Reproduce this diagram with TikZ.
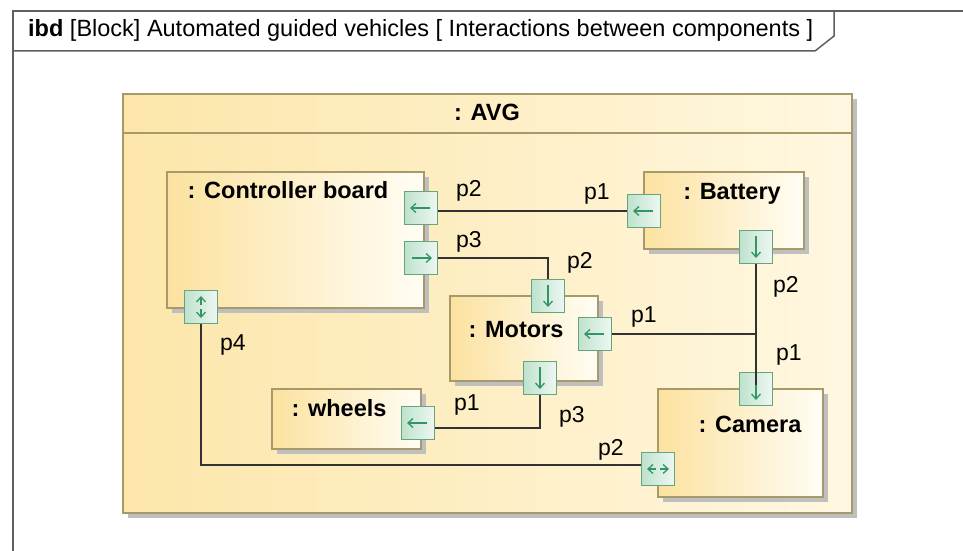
\documentclass[tikz,border=0pt]{standalone}
\usepackage{fontspec}
\setmainfont{Liberation Sans}
\usetikzlibrary{arrows.meta,shadows}
\definecolor{framec}{RGB}{95,95,95}
\definecolor{blockB}{RGB}{166,154,107}
\definecolor{blockL}{RGB}{252,226,160}
\definecolor{blockR}{RGB}{255,253,244}
\definecolor{avgL}{RGB}{252,230,170}
\definecolor{avgR}{RGB}{255,247,224}
\definecolor{portB}{RGB}{100,165,125}
\definecolor{portL}{RGB}{190,226,205}
\definecolor{portR}{RGB}{238,247,242}
\definecolor{arrowc}{RGB}{50,150,100}
\definecolor{connc}{RGB}{50,50,50}
\tikzset{
  frameline/.style={draw=framec, line width=1.5pt},
  blockbox/.style={draw=blockB, line width=1.5pt, left color=blockL, right color=blockR,
    anchor=north west, inner sep=0pt,
    general shadow={fill=black!25, shadow xshift=5pt, shadow yshift=-5pt}},
  avgbox/.style={blockbox, left color=avgL, right color=avgR},
  porttab/.style={rectangle, draw=portB, line width=1.3pt, left color=portL, right color=portR,
    minimum size=33pt, inner sep=0pt},
  parrow/.style={draw=arrowc, line width=1.3pt, -{Straight Barb[length=5pt,width=9pt]}},
  conn/.style={draw=connc, line width=1.4pt},
  titletext/.style={font=\fontsize{23.5}{27}\selectfont\bfseries, anchor=base, inner sep=0pt},
  plabel/.style={font=\fontsize{23}{27}\selectfont, anchor=base west, inner sep=0pt},
  headtext/.style={font=\fontsize{23.5}{27}\selectfont, anchor=base west, inner sep=0pt}
}
\begin{document}
\begin{tikzpicture}[x=1pt,y=-1pt]
\useasboundingbox (0,0) rectangle (963,551);
\fill[white] (0,0) rectangle (963,551);
% frame
\draw[frameline] (13,551) -- (13,11) -- (963,11);
\draw[frameline] (13,51) -- (815,51) -- (834,36) -- (834,11);
\node[headtext] (head) at (28,37) {\textbf{ibd} [Block] Automated guided vehicles [ Interactions between components ]};
% AVG block
\node[avgbox, minimum width=729pt, minimum height=419pt] (avg) at (122,93) {};
\draw[draw=blockB, line width=1.5pt] (avg.west |- 0,133) -- (avg.east |- 0,133);
\node[titletext] (avgt) at (487,120) {: AVG};
% parts
\node[blockbox, minimum width=257pt, minimum height=136pt] (cb) at (166,171) {};
\node[blockbox, minimum width=160pt, minimum height=77pt] (bat) at (643,171) {};
\node[blockbox, minimum width=148pt, minimum height=85pt] (mot) at (449,295) {};
\node[blockbox, minimum width=149pt, minimum height=60pt] (whl) at (271,388) {};
\node[blockbox, minimum width=165pt, minimum height=108pt] (cam) at (657,388) {};
\node[titletext] (cbt) at (288,198) {: Controller board};
\node[titletext] (batt) at (732,199) {: Battery};
\node[titletext] (mott) at (516,337) {: Motors};
\node[titletext] (whlt) at (339,416) {: wheels};
\node[titletext] (camt) at (750,432) {: Camera};
% ports
\node[porttab] (cp2) at (421,208) {};
\node[porttab] (cp3) at (421,258) {};
\node[porttab] (cp4) at (201,307) {};
\node[porttab] (bp1) at (644,211) {};
\node[porttab] (bp2) at (756,247) {};
\node[porttab] (mp2) at (548,296) {};
\node[porttab] (mp1) at (595,334) {};
\node[porttab] (mp3) at (540,378) {};
\node[porttab] (wp1) at (418,423) {};
\node[porttab] (camp1) at (756,389) {};
\node[porttab] (camp2) at (658,469) {};
% connectors
\draw[conn] (bp1.west) -- (bp1.west -| cp2.east);
\draw[conn] (cp3.east) -| (mp2.north);
\draw[conn] (bp2.south) -- (camp1.center);
\coordinate (junc) at (bp2.south |- mp1.east);
\draw[conn] (mp1.east) -- (junc);
\draw[conn] (mp3.south) |- ([yshift=-5pt]wp1.east);
\draw[conn] (cp4.south) |- ([yshift=4pt]camp2.west);
% port arrows
\draw[parrow] ([xshift=9pt]cp2.center) -- ([xshift=-11pt]cp2.center);
\draw[parrow] ([xshift=-9pt]cp3.center) -- ([xshift=11pt]cp3.center);
\draw[parrow] ([xshift=9pt]bp1.center) -- ([xshift=-11pt]bp1.center);
\draw[parrow] ([yshift=11pt]bp2.center) -- ([yshift=-11pt]bp2.center);
\draw[parrow] ([yshift=11pt]mp2.center) -- ([yshift=-11pt]mp2.center);
\draw[parrow] ([xshift=9pt]mp1.center) -- ([xshift=-11pt]mp1.center);
\draw[parrow] ([yshift=11pt]mp3.center) -- ([yshift=-11pt]mp3.center);
\draw[parrow] ([xshift=9pt]wp1.center) -- ([xshift=-11pt]wp1.center);
\draw[parrow] ([yshift=4pt]camp1.center) -- ([yshift=-11pt]camp1.center);
\draw[parrow] ([yshift=2pt]cp4.center) -- ([yshift=11pt]cp4.center);
\draw[parrow] ([yshift=-2pt]cp4.center) -- ([yshift=-11pt]cp4.center);
\draw[parrow] ([xshift=-2pt]camp2.center) -- ([xshift=-11pt]camp2.center);
\draw[parrow] ([xshift=2pt]camp2.center) -- ([xshift=11pt]camp2.center);
% port labels
\node[plabel] (lcp2) at (456,196) {p2};
\node[plabel] (lbp1) at (584,199) {p1};
\node[plabel] (lcp3) at (456,247) {p3};
\node[plabel] (lmp2) at (567,268) {p2};
\node[plabel] (lbp2) at (773,292) {p2};
\node[plabel] (lmp1) at (631,322) {p1};
\node[plabel] (lcamp1) at (776,360) {p1};
\node[plabel] (lcp4) at (220,350) {p4};
\node[plabel] (lwp1) at (454,410) {p1};
\node[plabel] (lmp3) at (559,422) {p3};
\node[plabel] (lcamp2) at (598,455) {p2};
\end{tikzpicture}
\end{document}
